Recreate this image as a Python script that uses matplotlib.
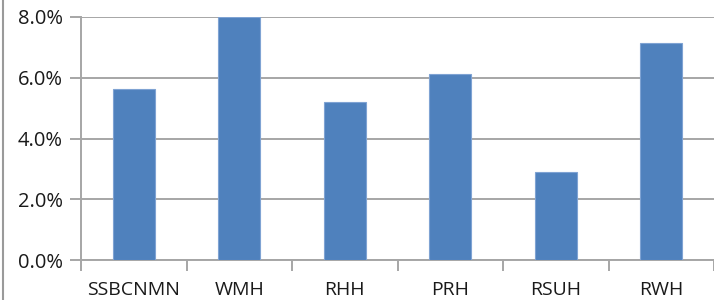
import matplotlib

matplotlib.use("Agg")
import matplotlib.pyplot as plt
from matplotlib.lines import Line2D
from matplotlib.ticker import FuncFormatter

categories = ["SSBCNMN", "WMH", "RHH", "PRH", "RSUH", "RWH"]
values = [5.63, 8.0, 5.2, 6.12, 2.9, 7.14]
yticks = [0, 2, 4, 6, 8]

plt.rcParams["font.family"] = ["Open Sans", "DejaVu Sans"]

fig = plt.figure(figsize=(7.14, 3.0), dpi=100)
ax = fig.add_axes([81 / 714, 40 / 300, 633 / 714, 243 / 300])

x = list(range(len(categories)))
ax.bar(x, values, width=0.4, color="#4F81BD", edgecolor="#7FA3D3", linewidth=0.8, zorder=3)

ax.set_xlim(-0.5, len(categories) - 0.5)
ax.set_ylim(0, 8)
ax.set_yticks(yticks)
ax.yaxis.set_major_formatter(FuncFormatter(lambda v, p: f"{v:.1f}%"))
ax.set_xticks(x)
ax.set_xticklabels(categories)
ax.set_xticks([i - 0.5 for i in range(len(categories) + 1)], minor=True)

ax.grid(axis="y", color="#A6A6A6", linewidth=1.4, zorder=0)
for s in ["top", "right"]:
    ax.spines[s].set_visible(False)
ax.spines["left"].set_color("#A6A6A6")
ax.spines["bottom"].set_color("#A6A6A6")
ax.spines["left"].set_linewidth(1.4)
ax.spines["bottom"].set_linewidth(1.4)

ax.tick_params(axis="y", length=8, width=1.4, color="#A6A6A6", labelsize=14.5, pad=5, labelcolor="#1a1a1a")
ax.tick_params(axis="x", which="major", length=0, labelsize=14, pad=15, labelcolor="#1a1a1a")
ax.tick_params(axis="x", which="minor", length=8, width=1.4, color="#A6A6A6")

# chart-area border on the left edge
fig.add_artist(Line2D([3 / 714, 3 / 714], [0, 1], transform=fig.transFigure, color="#9A9A9A", linewidth=1.5))

fig.savefig("out.png", dpi=100)
